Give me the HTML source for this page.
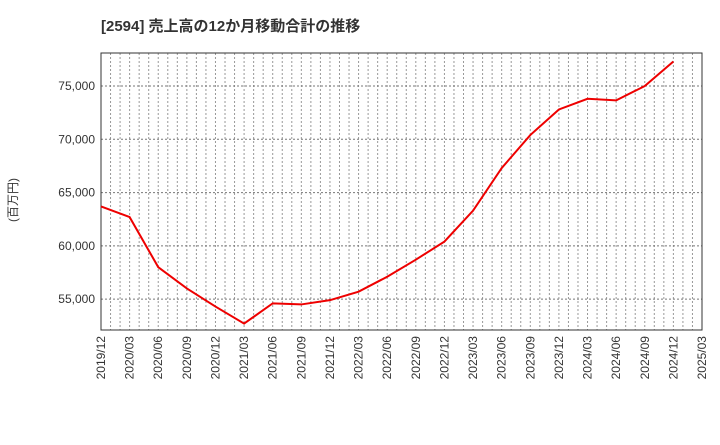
<!DOCTYPE html>
<html><head><meta charset="utf-8"><style>
body{margin:0;background:#fff;font-family:"Liberation Sans","Noto Sans CJK JP",sans-serif}
</style></head><body>
<svg id="c" width="720" height="440" xmlns="http://www.w3.org/2000/svg">
<text x="101" y="31" font-size="15" font-weight="bold" fill="#333" font-family="Liberation Sans, Noto Sans CJK JP, sans-serif">[2594]  売上高の12か月移動合計の推移</text>
<text transform="translate(17,200) rotate(-90)" text-anchor="middle" font-size="12" fill="#333" font-family="Liberation Sans, Noto Sans CJK JP, sans-serif">(百万円)</text>
<g id="grid"></g><g id="axes"></g><g id="series"></g>
</svg>
<script>
const xLabels=["2019/12","2020/03","2020/06","2020/09","2020/12","2021/03","2021/06","2021/09","2021/12","2022/03","2022/06","2022/09","2022/12","2023/03","2023/06","2023/09","2023/12","2024/03","2024/06","2024/09","2024/12","2025/03"];
const values=[63700,62700,58000,56000,54300,52700,54600,54500,54900,55700,57100,58700,60400,63300,67300,70400,72800,73800,73650,75000,77300];
const yTicks=[55000,60000,65000,70000,75000];
const L=101,R=702,T=53,B=330,yMin=52100,yMax=78100;
const ns="http://www.w3.org/2000/svg";
const xs=i=>L+(R-L)*i/(xLabels.length-1);
const ys=v=>B-(v-yMin)/(yMax-yMin)*(B-T);
function mk(t,a,p){const e=document.createElementNS(ns,t);for(const k in a)e.setAttribute(k,a[k]);p.appendChild(e);return e;}
const g=document.getElementById('grid'),ax=document.getElementById('axes'),s=document.getElementById('series');
const months=(xLabels.length-1)*3;
for(let m=1;m<months;m++){const x=L+(R-L)*m/months;const e=mk('line',{x1:x,x2:x,y1:T,y2:B,stroke:'#999','stroke-dasharray':'2,2','stroke-width':1},g);

}
yTicks.forEach(v=>{const y=ys(v);const e=mk('line',{x1:L,x2:R,y1:y,y2:y,stroke:'#777','stroke-dasharray':'2,2','stroke-width':1},g);


const t=mk('text',{x:L-6,y:y+4,'text-anchor':'end','font-size':12,fill:'#333'},ax);t.textContent=v.toLocaleString('en-US');

});
xLabels.forEach((l,i)=>{const x=xs(i);const t=mk('text',{transform:`translate(${x+4},${B+6}) rotate(-90)`,'text-anchor':'end','font-size':12,fill:'#333'},ax);t.textContent=l;

});
const fr=mk('rect',{x:L,y:T,width:R-L,height:B-T,fill:'none',stroke:'#333','stroke-width':1},ax);


const pl=mk('polyline',{points:values.map((v,i)=>xs(i)+','+ys(v)).join(' '),fill:'none',stroke:'#e00','stroke-width':2},s);


</script>
</body></html>
